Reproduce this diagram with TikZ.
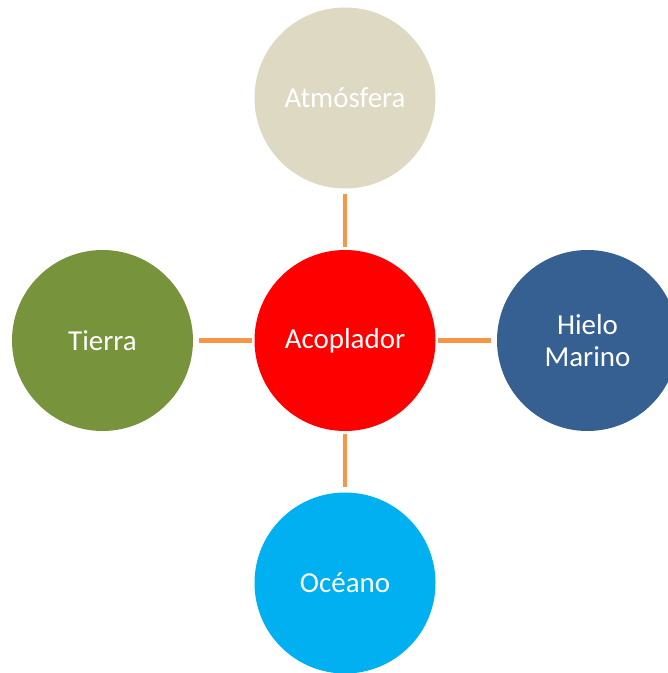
\documentclass[tikz,border=0pt]{standalone}
\usepackage{fontspec}
\setmainfont{Carlito}
\definecolor{atmcolor}{HTML}{DDD9C3}
\definecolor{acocolor}{HTML}{FF0000}
\definecolor{tiecolor}{HTML}{77933C}
\definecolor{hiecolor}{HTML}{376092}
\definecolor{ocecolor}{HTML}{00B0F0}
\definecolor{linkcolor}{HTML}{F79646}
\begin{document}
\begin{tikzpicture}[x=0.75pt,y=-0.75pt,
  comp/.style={circle,minimum size=135.75pt,inner sep=0pt,text=white,align=center,
    font=\fontsize{21.7pt}{24pt}\selectfont},
  link/.style={draw=linkcolor,line width=3.4pt,shorten <=4.2pt,shorten >=1.8pt}]
\useasboundingbox (0,0) rectangle (667,673);
\node[comp,fill=acocolor] (aco) at (345,340.5) {Acoplador};
\node[comp,fill=atmcolor] (atm) at (345,98) {Atmósfera};
\node[comp,fill=tiecolor] (tie) at (102.5,340.5) {Tierra};
\node[comp,fill=hiecolor] (hie) at (587.5,340.5) {Hielo\\Marino};
\node[comp,fill=ocecolor] (oce) at (345,583) {Océano};
\draw[link] (atm) -- (aco);
\draw[link] (tie) -- (aco);
\draw[link] (hie) -- (aco);
\draw[link] (oce) -- (aco);
\end{tikzpicture}
\end{document}
